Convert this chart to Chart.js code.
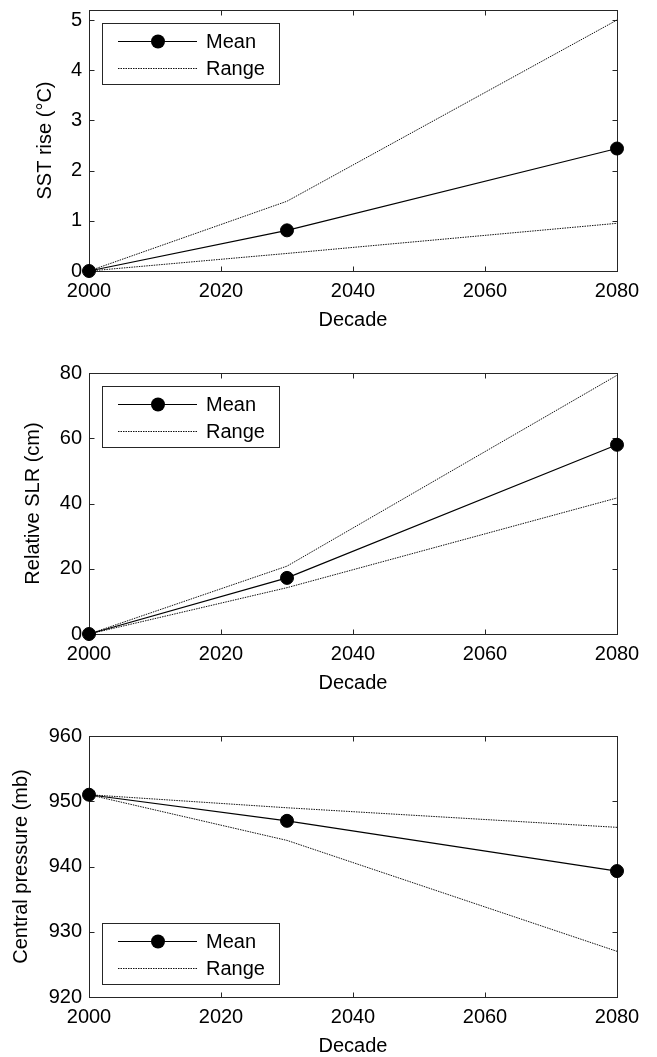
<!DOCTYPE html>
<html><head><meta charset="utf-8">
<script src="https://cdn.jsdelivr.net/npm/chart.js@4.4.0/dist/chart.umd.min.js"></script>
<style>
html,body{margin:0;padding:0;background:#fff;width:657px;height:1057px;overflow:hidden;position:relative}
canvas{position:absolute;left:0}
</style></head><body>
<canvas id="c1" width="657" height="370" style="top:-20px"></canvas>
<canvas id="c2" width="657" height="370" style="top:340px"></canvas>
<canvas id="c3" width="657" height="390" style="top:680px"></canvas>
<script>
// ---- data ----
const decades = [2000, 2030, 2080];
const xTicks = [2000, 2020, 2040, 2060, 2080];

const sstMean  = [0, 0.81, 2.44];
const sstUpper = [0, 1.39, 5.0];
const sstLower = [0, 0.35, 0.95];
const sstTicks = [0, 1, 2, 3, 4, 5];

const slrMean  = [0, 17.2, 58];
const slrUpper = [0, 20.8, 79.3];
const slrLower = [0, 14.2, 41.7];
const slrTicks = [0, 20, 40, 60, 80];

const presMean  = [951, 947, 939.3];
const presUpper = [951, 949, 946];
const presLower = [951, 944, 927];
const presTicks = [920, 930, 940, 950, 960];

const legendLabels = ['Mean', 'Range'];
const xTitle = 'Decade';

// ---- helpers ----
const FONT = '"Liberation Sans", Arial, Helvetica, sans-serif';
const AX = '#262626';
const DOT = '#111';
const DASH = [1.5, 1];
function pts(ys){ return decades.map((x,i)=>({x:x, y:ys[i]})); }

const framePlugin = {
  id: 'frame',
  beforeDatasetsDraw(chart) {
    const ctx = chart.ctx, a = chart.chartArea;
    const xs = chart.scales.x, ys = chart.scales.y;
    ctx.save();
    ctx.strokeStyle = AX; ctx.lineWidth = 1;
    const L = Math.round(a.left)+0.5, R = Math.round(a.right)+0.5,
          T = Math.round(a.top)+0.5, B = Math.round(a.bottom)+0.5;
    ctx.strokeRect(L, T, R-L, B-T);
    ctx.beginPath();
    xs.ticks.forEach(t => {
      const px = Math.round(xs.getPixelForValue(t.value))+0.5;
      ctx.moveTo(px, B); ctx.lineTo(px, B-5);
      ctx.moveTo(px, T); ctx.lineTo(px, T+5);
    });
    ys.ticks.forEach(t => {
      const py = Math.round(ys.getPixelForValue(t.value))+0.5;
      ctx.moveTo(L, py); ctx.lineTo(L+5, py);
      ctx.moveTo(R, py); ctx.lineTo(R-5, py);
    });
    ctx.stroke();
    ctx.restore();
  },
  afterDatasetsDraw(chart, args, opts) {
    const ctx = chart.ctx, a = chart.chartArea;
    const w = 177, h = 61;
    const bx = Math.round(a.left) + 13;
    const by = opts.where === 'bottom' ? Math.round(a.bottom) - 13 - h : Math.round(a.top) + 13;
    ctx.save();
    ctx.fillStyle = '#fff';
    ctx.fillRect(bx, by, w, h);
    ctx.strokeStyle = AX; ctx.lineWidth = 1;
    ctx.strokeRect(bx+0.5, by+0.5, w, h);
    const r1 = by + 18, r2 = by + 45;
    // Mean
    ctx.strokeStyle = '#000';
    ctx.beginPath(); ctx.moveTo(bx+16, r1+0.5); ctx.lineTo(bx+95, r1+0.5); ctx.stroke();
    ctx.fillStyle = '#000';
    ctx.beginPath(); ctx.arc(bx+56, r1+0.5, 7, 0, Math.PI*2); ctx.fill();
    // Range
    ctx.setLineDash(DASH);
    ctx.strokeStyle = DOT;
    ctx.beginPath(); ctx.moveTo(bx+16, r2+0.5); ctx.lineTo(bx+95, r2+0.5); ctx.stroke();
    ctx.setLineDash([]);
    ctx.fillStyle = '#000';
    ctx.font = '20px ' + FONT;
    ctx.textBaseline = 'middle';
    ctx.textAlign = 'left';
    ctx.fillText(legendLabels[0], bx+104, r1+1);
    ctx.fillText(legendLabels[1], bx+104, r2+1);
    ctx.restore();
  }
};

function makeChart(id, cfg) {
  const tickFont = {family: FONT, size: 20};
  new Chart(document.getElementById(id), {
    type: 'line',
    data: {
      datasets: [
        {label: legendLabels[0], data: pts(cfg.mean), borderColor: '#000', borderWidth: 1.2,
         pointRadius: 6.5, pointBorderWidth: 1, pointBackgroundColor: '#000', pointBorderColor: '#000',
         tension: 0, clip: false},
        {label: legendLabels[1], data: pts(cfg.upper), borderColor: DOT, borderWidth: 1,
         borderDash: DASH, pointRadius: 0, tension: 0, clip: false},
        {label: legendLabels[1] + ' low', data: pts(cfg.lower), borderColor: DOT, borderWidth: 1,
         borderDash: DASH, pointRadius: 0, tension: 0, clip: false}
      ]
    },
    options: {
      responsive: false, animation: false, devicePixelRatio: 1,
      layout: {padding: {left: cfg.padLeft, right: 40, top: cfg.padTop, bottom: cfg.padBottom}},
      plugins: {legend: {display: false}, tooltip: {enabled: false},
                frame: {where: cfg.legendWhere}},
      scales: {
        x: {
          type: 'linear', min: 2000, max: 2080,
          afterBuildTicks: s => { s.ticks = xTicks.map(v => ({value: v})); },
          ticks: {font: tickFont, color: '#000', padding: 8, maxRotation: 0, autoSkip: false,
                  callback: v => String(v)},
          grid: {display: false, drawTicks: false},
          border: {display: false},
          title: {display: true, text: xTitle, font: tickFont, color: '#000', padding: {top: 4, bottom: 4}},
          afterFit: s => { s.height = 65; }
        },
        y: {
          type: 'linear', min: cfg.yMin, max: cfg.yMax,
          afterBuildTicks: s => { s.ticks = cfg.yTicks.map(v => ({value: v})); },
          ticks: {font: tickFont, color: '#000', padding: 7, autoSkip: false, callback: v => String(v)},
          grid: {display: false, drawTicks: false},
          border: {display: false},
          title: {display: true, text: cfg.yTitle, font: tickFont, color: '#000', padding: {top: 4, bottom: 4}},
          afterFit: s => { s.width = 89 - cfg.padLeft; }
        }
      }
    },
    plugins: [framePlugin]
  });
}

makeChart('c1', {mean: sstMean, upper: sstUpper, lower: sstLower, yTicks: sstTicks,
  yMin: 0, yMax: 5.2, yTitle: 'SST rise (°C)', padLeft: 29, padTop: 30, padBottom: 14, legendWhere: 'top'});
makeChart('c2', {mean: slrMean, upper: slrUpper, lower: slrLower, yTicks: slrTicks,
  yMin: 0, yMax: 80, yTitle: 'Relative SLR (cm)', padLeft: 17, padTop: 33, padBottom: 11, legendWhere: 'top'});
makeChart('c3', {mean: presMean, upper: presUpper, lower: presLower, yTicks: presTicks,
  yMin: 920, yMax: 960, yTitle: 'Central pressure (mb)', padLeft: 5, padTop: 56, padBottom: 8, legendWhere: 'bottom'});
</script>
</body></html>
